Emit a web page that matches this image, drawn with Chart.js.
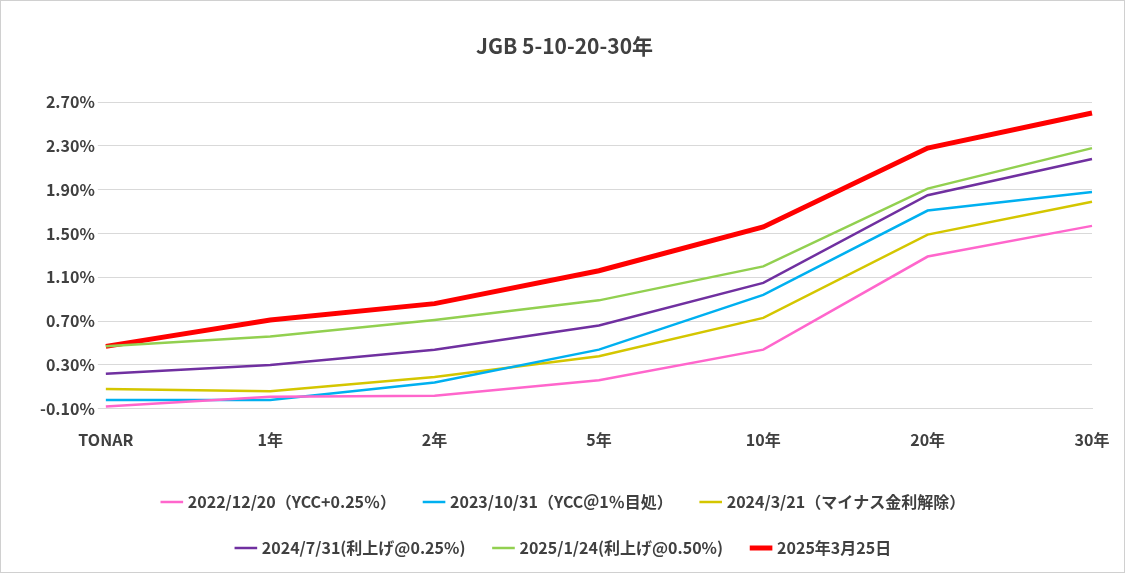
<!DOCTYPE html>
<html>
<head>
<meta charset="utf-8">
<script src="https://cdn.jsdelivr.net/npm/chart.js@4/dist/chart.umd.min.js"></script>
<style>
  body { margin: 0; background: #fff; }
  #wrap { width: 1123px; height: 571px; border: 1px solid #d0d0d0; }
</style>
</head>
<body>
<div id="wrap"><canvas id="myChart" width="1123" height="571"></canvas></div>
<script>
const labels = ["TONAR", "1年", "2年", "5年", "10年", "20年", "30年"];

const s2022 = [-0.08, 0.01, 0.02, 0.16, 0.44, 1.29, 1.57];
const s2023 = [-0.02, -0.02, 0.14, 0.44, 0.94, 1.71, 1.88];
const s2024a = [0.08, 0.06, 0.19, 0.38, 0.73, 1.49, 1.79];
const s2024b = [0.22, 0.30, 0.44, 0.66, 1.05, 1.85, 2.18];
const s2025a = [0.47, 0.56, 0.71, 0.89, 1.20, 1.91, 2.28];
const s2025b = [0.47, 0.71, 0.86, 1.16, 1.56, 2.28, 2.60];

const yTicks = [-0.1, 0.1, 0.3, 0.5, 0.7, 0.9, 1.1, 1.3, 1.5, 1.7, 1.9, 2.1, 2.3, 2.5, 2.7, 2.9];

const font = "'Noto Sans CJK JP', 'Noto Sans', sans-serif";

function ds(label, data, color, width) {
  return { label, data, borderColor: color, backgroundColor: color, borderWidth: width,
    pointRadius: 0, fill: false, tension: 0 };
}

const ctx = document.getElementById("myChart").getContext("2d");

window.myChart = new Chart(ctx, {
  type: "line",
  data: {
    labels: labels,
    datasets: [
      ds("2022/12/20（YCC+0.25％）", s2022, "#ff66cc", 2.5),
      ds("2023/10/31（YCC＠1％目処）", s2023, "#00b0f0", 2.5),
      ds("2024/3/21（マイナス金利解除）", s2024a, "#d4c600", 2.5),
      ds("2024/7/31(利上げ@0.25%)", s2024b, "#7030a0", 2.5),
      ds("2025/1/24(利上げ@0.50%)", s2025a, "#92d050", 2.5),
      ds("2025年3月25日", s2025b, "#ff0000", 5),
    ],
  },
  options: {
    responsive: false,
    animation: false,
    layout: { padding: { left: 36, right: 32, top: 14, bottom: 6 } },
    scales: {
      x: {
        offset: false,
        grid: { display: false },
        border: { color: "#d9d9d9" },
        ticks: { color: "#404040", font: { family: font, size: 16, weight: "bold" }, padding: 14 },
      },
      y: {
        min: -0.1,
        max: 2.9,
        afterBuildTicks: (axis) => { axis.ticks = yTicks.map((v) => ({ value: v })); },
        grid: { color: "#d9d9d9" },
        border: { display: false },
        ticks: {
          color: "#404040",
          font: { family: font, size: 16, weight: "bold" },
          callback: (v) => v.toFixed(2) + "%",
        },
      },
    },
    plugins: {
      title: {
        display: true,
        text: "JGB 5-10-20-30年",
        color: "#404040",
        font: { family: font, size: 21, weight: "bold" },
        padding: { top: 18, bottom: 22 },
      },
      legend: {
        position: "bottom",
        labels: {
          color: "#404040",
          font: { family: font, size: 16, weight: "bold" },
          usePointStyle: true,
          pointStyle: "line",
          boxWidth: 60,
          padding: 30,
        },
      },
    },
  },
});
</script>
</body>
</html>
